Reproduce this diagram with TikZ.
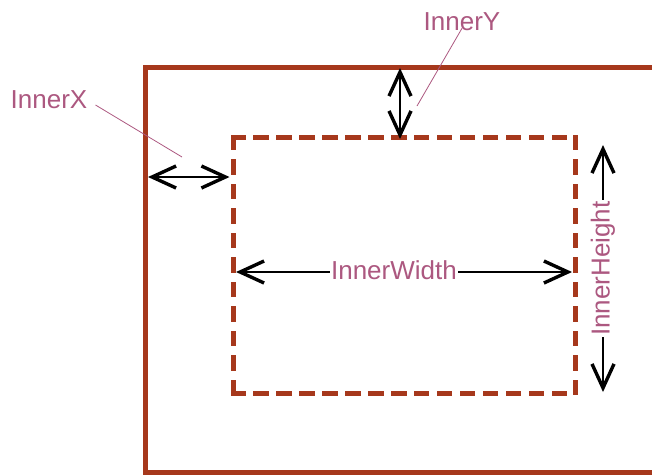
\documentclass[tikz,border=0pt]{standalone}
\usepackage{fontspec}
\setmainfont{Liberation Sans}
\usetikzlibrary{arrows.meta}
\definecolor{framered}{RGB}{166,56,28}
\definecolor{tagmauve}{RGB}{172,88,128}

\begin{document}
\begin{tikzpicture}[x=1pt, y=-1pt, font=\fontsize{26}{30}\selectfont,
    frame/.style={framered, line width=5pt},
    inside/.style={framered, line width=5pt, line cap=rect},
    dim/.style={<->, >={Straight Barb[length=24pt,width=22pt,line width=3.4pt]}, line width=1.5pt},
    tag/.style={text=tagmauve, inner sep=2pt},
    leader/.style={tagmauve, line width=0.8pt}]
  \useasboundingbox (0,0) rectangle (652,475);

  % window frame and client area
  \coordinate (oNW) at (145,67);  \coordinate (oNE) at (652,67);
  \coordinate (oSW) at (145,472); \coordinate (oSE) at (652,472);
  \coordinate (iNW) at (233,137); \coordinate (iNE) at (575,137);
  \coordinate (iSW) at (233,393); \coordinate (iSE) at (575,393);
  \draw[frame] (oNE) -- (oNW) -- (oSW) -- (oSE);
  \draw[inside, dash pattern=on 10.5pt off 12.43pt] (iNW) -- (iNE);
  \draw[inside, dash pattern=on 10.5pt off 12.43pt] (iSW) -- (iSE);
  \draw[inside, dash pattern=on 10.5pt off 14pt]    (iNW) -- (iSW);
  \draw[inside, dash pattern=on 10.5pt off 14pt]    (iNE) -- (iSE);

  % dimension arrows
  \coordinate (xl) at (148,177); \coordinate (xr) at (229.5,177);
  \coordinate (yt) at (400,68);  \coordinate (yb) at (400,139);
  \coordinate (wl) at (236,272); \coordinate (wr) at (572,272);
  \coordinate (ht) at (603,145); \coordinate (hb) at (603,392);
  \draw[dim] (xl) -- (xr);
  \draw[dim] (yt) -- (yb);
  \draw[dim] (wl) -- node[tag, pos=0.47, fill=white, inner sep=1pt, yshift=2pt] (wlab) {InnerWidth} (wr);
  \draw[dim] (ht) -- node[tag, fill=white, inner sep=1pt, rotate=90] (hlab) {InnerHeight} (hb);

  % callouts
  \node[tag] (xlab) at (49,100) {InnerX};
  \node[tag] (ylab) at (462,22) {InnerY};
  \coordinate (xpt) at (182,157);
  \coordinate (ypt) at (417,106);
  \draw[leader] ([shift={(6,5)}]xlab.east) -- (xpt);
  \draw[leader] ([yshift=5pt]ylab.south) -- (ypt);
\end{tikzpicture}
\end{document}
